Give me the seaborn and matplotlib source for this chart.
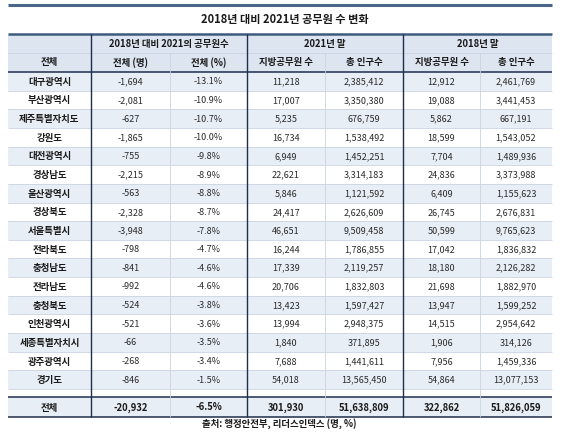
import matplotlib.pyplot as plt
import numpy as np
import seaborn as sns
from matplotlib.colors import ListedColormap

sns.set_theme(style='white')
plt.rcParams['font.family'] = ['Noto Sans CJK KR', 'DejaVu Sans']

# Data
regions = ['대구광역시', '부산광역시', '제주특별자치도', '강원도', '대전광역시', '경상남도',
           '울산광역시', '경상북도', '서울특별시', '전라북도', '충청남도', '전라남도',
           '충청북도', '인천광역시', '세종특별자치시', '광주광역시', '경기도']
change_n = [-1694, -2081, -627, -1865, -755, -2215, -563, -2328, -3948, -798, -841,
            -992, -524, -521, -66, -268, -846]
change_pct = [-13.1, -10.9, -10.7, -10.0, -9.8, -8.9, -8.8, -8.7, -7.8, -4.7, -4.6,
              -4.6, -3.8, -3.6, -3.5, -3.4, -1.5]
officials_2021 = [11218, 17007, 5235, 16734, 6949, 22621, 5846, 24417, 46651, 16244,
                  17339, 20706, 13423, 13994, 1840, 7688, 54018]
pop_2021 = [2385412, 3350380, 676759, 1538492, 1452251, 3314183, 1121592, 2626609,
            9509458, 1786855, 2119257, 1832803, 1597427, 2948375, 371895, 1441611, 13565450]
officials_2018 = [12912, 19088, 5862, 18599, 7704, 24836, 6409, 26745, 50599, 17042,
                  18180, 21698, 13947, 14515, 1906, 7956, 54864]
pop_2018 = [2461769, 3441453, 667191, 1543052, 1489936, 3373988, 1155623, 2676831,
            9765623, 1836832, 2126282, 1882970, 1599252, 2954642, 314126, 1459336, 13077153]
total_row = ['전체', -20932, -6.5, 301930, 51638809, 322862, 51826059]

group_headers = ['2018년 대비 2021의 공무원수', '2021년 말', '2018년 말']
sub_headers = ['전체', '전체 (명)', '전체 (%)', '지방공무원 수', '총 인구수', '지방공무원 수', '총 인구수']
title = '2018년 대비 2021년 공무원 수 변화'
source = '출처: 행정안전부, 리더스인덱스 (명, %)'

# Layout (pixels)
W, H = 570, 433
col_edges = [8, 91, 170, 247, 325, 403, 480, 552]
head_top, head_mid, head_bot = 34, 53, 72
body_bot, total_top, total_bot = 389, 397, 417

header_color = '#DCE5F0'
shade_color = '#E8EEF6'
dark = '#1F2E4C'
light = '#C9D3E0'
text_color = '#1a1a1a'

fig = plt.figure(figsize=(W / 100, H / 100), dpi=100)

# body row shading with a seaborn heatmap
n = len(regions)
parity = np.array([[1 - (i % 2)] for i in range(n)])
ax_h = fig.add_axes([col_edges[0] / W, 1 - body_bot / H,
                     (col_edges[-1] - col_edges[0]) / W, (body_bot - head_bot) / H])
sns.heatmap(parity, ax=ax_h, cmap=ListedColormap(['white', shade_color]), cbar=False,
            xticklabels=False, yticklabels=False, linewidths=0)
ax_h.axis('off')

ax = fig.add_axes([0, 0, 1, 1])
ax.set_xlim(0, W)
ax.set_ylim(H, 0)
ax.axis('off')
ax.patch.set_alpha(0)

x0, x1 = col_edges[0], col_edges[-1]
centers = [(a + b) / 2 for a, b in zip(col_edges[:-1], col_edges[1:])]

# header and total shading
ax.fill_between([x0, x1], head_top, head_bot, color=header_color, lw=0)
ax.fill_between([x0, x1], total_top, total_bot, color=shade_color, lw=0)

# title
ax.hlines(5, x0, x1, color='#4A6688', lw=2.2)
ax.text(W / 2, 20, title, ha='center', va='center', fontsize=8, fontweight='bold',
        color=text_color)

# headers
ax.text(centers[0], (head_mid + head_bot) / 2, sub_headers[0], ha='center', va='center',
        fontsize=6.8, fontweight='bold', color=text_color)
for k, label in enumerate(group_headers):
    xa, xb = col_edges[1 + 2 * k], col_edges[3 + 2 * k]
    ax.text((xa + xb) / 2, (head_top + head_mid) / 2, label, ha='center', va='center',
            fontsize=6.8, fontweight='bold', color=text_color)
for j in range(1, 7):
    ax.text(centers[j], (head_mid + head_bot) / 2, sub_headers[j], ha='center', va='center',
            fontsize=6.8, fontweight='bold', color=text_color)


def fmt_row(vals):
    return [f'{vals[0]:,}', f'{vals[1]:.1f}%', f'{vals[2]:,}', f'{vals[3]:,}',
            f'{vals[4]:,}', f'{vals[5]:,}']


rh = (body_bot - head_bot) / n
for i in range(n):
    yc = head_bot + (i + 0.5) * rh + 0.5
    ax.text(centers[0], yc, regions[i], ha='center', va='center', fontsize=6.8,
            fontweight='bold', color=text_color)
    cells = fmt_row([change_n[i], change_pct[i], officials_2021[i], pop_2021[i],
                     officials_2018[i], pop_2018[i]])
    for j, s in enumerate(cells):
        ax.text(centers[j + 1], yc, s, ha='center', va='center', fontsize=6.5,
                color='#2a2a2a')
    if i > 0:
        ax.hlines(head_bot + i * rh, x0, x1, color=light, lw=0.6)

yc = (total_top + total_bot) / 2 + 0.5
ax.text(centers[0], yc, total_row[0], ha='center', va='center', fontsize=6.8,
        fontweight='bold', color=text_color)
for j, s in enumerate(fmt_row(total_row[1:])):
    ax.text(centers[j + 1], yc, s, ha='center', va='center', fontsize=6.8,
            fontweight='bold', color=text_color)

# rules
ax.hlines(head_top, x0, x1, color='#3E5B7E', lw=1.8)
ax.hlines(head_mid, x0, x1, color=light, lw=0.6)
ax.hlines(body_bot, x0, x1, color=light, lw=0.6)
ax.hlines([head_bot, total_top, total_bot], x0, x1, color=dark, lw=1.1)
for xe in [col_edges[1], col_edges[3], col_edges[5]]:
    ax.vlines(xe, head_top, total_bot, color=dark, lw=1.0)
for xe in [col_edges[2], col_edges[4], col_edges[6]]:
    ax.vlines(xe, head_mid, total_bot, color=light, lw=0.6)

ax.text(279, 424, source, ha='center', va='center', fontsize=6.8, fontweight='bold',
        color=text_color)

fig.savefig('out.png', dpi=100)
